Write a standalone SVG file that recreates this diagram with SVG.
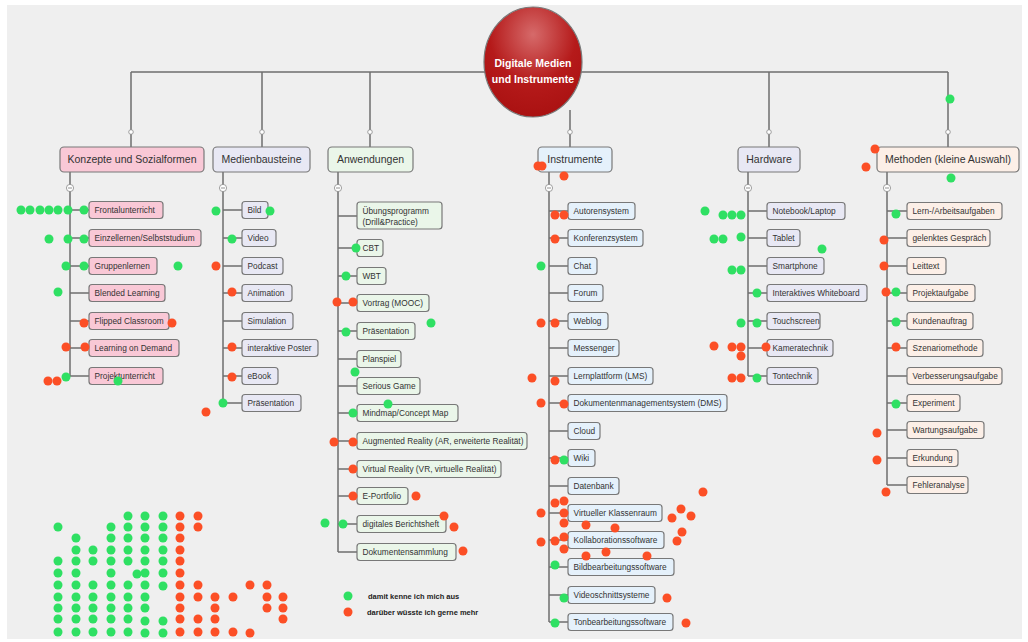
<svg xmlns="http://www.w3.org/2000/svg" width="1028" height="642" viewBox="0 0 1028 642">
<defs>
<radialGradient id="cg" cx="0.5" cy="0.25" r="0.8">
<stop offset="0" stop-color="#d66a6a"/>
<stop offset="0.55" stop-color="#b51a1a"/>
<stop offset="1" stop-color="#a81010"/>
</radialGradient>
<style>
.ln{stroke:#6f6f6f;stroke-width:1.5;fill:none}
.bx{stroke:#787878;stroke-width:1.2}
.pk{fill:#f9c8d6}.lv{fill:#e8e8f4}.gr{fill:#eaf6e9}.bl{fill:#e5f1fb}.pc{fill:#fcefe7}
.t{font-family:"Liberation Sans",Arial,sans-serif;font-size:8.3px;fill:#333}
.h{font-family:"Liberation Sans",Arial,sans-serif;font-size:10.5px;fill:#333;text-anchor:middle}
.c{font-family:"Liberation Sans",Arial,sans-serif;font-size:10.5px;font-weight:bold;fill:#fff;text-anchor:middle}
.l{font-family:"Liberation Sans",Arial,sans-serif;font-size:7.5px;font-weight:bold;fill:#222}
.oc{fill:#fff;stroke:#8a8a8a;stroke-width:0.8}
.g{fill:#2fe063}.r{fill:#fc4f26}
</style>
</defs>
<rect x="0" y="0" width="1028" height="642" fill="#fff"/>
<rect x="7" y="5" width="1015" height="634" fill="#efefef"/>

<g id="connectors">
<path class="ln" d="M131 72H948M131 72V148M262 72V148M370 72V148M570 110V148M769 72V148M948 72V148"/>
<path class="ln" d="M70 172V376M70 210H89M70 238H89M70 266H89M70 293H89M70 321H89M70 348H89M70 376H89"/>
<path class="ln" d="M223 172V403M223 210H242M223 238H242M223 266H242M223 293H242M223 321H242M223 348H242M223 376H242M223 403H242"/>
<path class="ln" d="M338 172V552M338 216H357M338 248H357M338 276H357M338 303H357M338 331H357M338 359H357M338 386H357M338 413H357M338 441H357M338 469H357M338 496H357M338 524H357M338 552H357"/>
<path class="ln" d="M549 172V622M549 211H568M549 238H568M549 266H568M549 293H568M549 321H568M549 348H568M549 376H568M549 403H568M549 431H568M549 458H568M549 486H568M549 513H568M549 540H568M549 567H568M549 595H568M549 622H568"/>
<path class="ln" d="M748 172V376M748 211H767M748 238H767M748 266H767M748 293H767M748 321H767M748 348H767M748 376H767"/>
<path class="ln" d="M887 172V485M887 211H907M887 238H907M887 266H907M887 293H907M887 321H907M887 348H907M887 376H907M887 403H907M887 430H907M887 458H907M887 485H907"/>
<circle class="oc" cx="131" cy="132" r="2.3"/><circle class="oc" cx="262" cy="132" r="2.3"/><circle class="oc" cx="370" cy="132" r="2.3"/><circle class="oc" cx="570" cy="132" r="2.3"/><circle class="oc" cx="769" cy="132" r="2.3"/><circle class="oc" cx="948" cy="132" r="2.3"/>
<g stroke="#777" stroke-width="0.8">
<circle class="oc" cx="70" cy="188" r="3.6"/><path d="M68 188h4"/>
<circle class="oc" cx="223" cy="188" r="3.6"/><path d="M221 188h4"/>
<circle class="oc" cx="338" cy="188" r="3.6"/><path d="M336 188h4"/>
<circle class="oc" cx="549" cy="188" r="3.6"/><path d="M547 188h4"/>
<circle class="oc" cx="748" cy="188" r="3.6"/><path d="M746 188h4"/>
<circle class="oc" cx="887" cy="188" r="3.6"/><path d="M885 188h4"/>
</g>
</g>

<g id="center">
<ellipse cx="533" cy="62" rx="49" ry="55" fill="url(#cg)" stroke="#7a7a7a" stroke-width="1.2"/>
<text class="c" x="533" y="67">Digitale Medien</text>
<text class="c" x="533" y="83">und Instrumente</text>
</g>

<g id="konzepte">
<rect class="bx pk" x="60" y="147" width="144" height="25" rx="4"/><text class="h" x="132" y="163">Konzepte und Sozialformen</text>
<rect class="bx pk" x="89" y="201.5" width="74" height="17" rx="3"/><text class="t" x="94.5" y="213">Frontalunterricht</text>
<rect class="bx pk" x="89" y="229.5" width="112" height="17" rx="3"/><text class="t" x="94.5" y="241">Einzellernen/Selbststudium</text>
<rect class="bx pk" x="89" y="257.5" width="68" height="17" rx="3"/><text class="t" x="94.5" y="269">Gruppenlernen</text>
<rect class="bx pk" x="89" y="284.5" width="76" height="17" rx="3"/><text class="t" x="94.5" y="296">Blended Learning</text>
<rect class="bx pk" x="89" y="312.5" width="80" height="17" rx="3"/><text class="t" x="94.5" y="324">Flipped Classroom</text>
<rect class="bx pk" x="89" y="339.5" width="90" height="17" rx="3"/><text class="t" x="94.5" y="351">Learning on Demand</text>
<rect class="bx pk" x="89" y="367.5" width="74" height="17" rx="3"/><text class="t" x="94.5" y="379">Projektunterricht</text>
</g>

<g id="medienbausteine">
<rect class="bx lv" x="213" y="147" width="97" height="25" rx="4"/><text class="h" x="261.5" y="163">Medienbausteine</text>
<rect class="bx lv" x="242" y="201.5" width="26" height="17" rx="3"/><text class="t" x="247.5" y="213">Bild</text>
<rect class="bx lv" x="242" y="229.5" width="34" height="17" rx="3"/><text class="t" x="247.5" y="241">Video</text>
<rect class="bx lv" x="242" y="257.5" width="41" height="17" rx="3"/><text class="t" x="247.5" y="269">Podcast</text>
<rect class="bx lv" x="242" y="284.5" width="50" height="17" rx="3"/><text class="t" x="247.5" y="296">Animation</text>
<rect class="bx lv" x="242" y="312.5" width="51" height="17" rx="3"/><text class="t" x="247.5" y="324">Simulation</text>
<rect class="bx lv" x="242" y="339.5" width="76" height="17" rx="3"/><text class="t" x="247.5" y="351">interaktive Poster</text>
<rect class="bx lv" x="242" y="367.5" width="36" height="17" rx="3"/><text class="t" x="247.5" y="379">eBook</text>
<rect class="bx lv" x="242" y="394.5" width="59" height="17" rx="3"/><text class="t" x="247.5" y="406">Präsentation</text>
</g>

<g id="anwendungen">
<rect class="bx gr" x="328" y="147" width="85" height="25" rx="4"/><text class="h" x="370.5" y="163">Anwendungen</text>
<rect class="bx gr" x="357" y="202" width="85" height="27" rx="3"/><text class="t" x="362.5" y="213.5">Übungsprogramm</text><text class="t" x="362.5" y="224.5">(Drill&amp;Practice)</text>
<rect class="bx gr" x="357" y="239.5" width="26" height="17" rx="3"/><text class="t" x="362.5" y="251">CBT</text>
<rect class="bx gr" x="357" y="267.5" width="29" height="17" rx="3"/><text class="t" x="362.5" y="279">WBT</text>
<rect class="bx gr" x="357" y="294.5" width="72" height="17" rx="3"/><text class="t" x="362.5" y="306">Vortrag (MOOC)</text>
<rect class="bx gr" x="357" y="322.5" width="58" height="17" rx="3"/><text class="t" x="362.5" y="334">Präsentation</text>
<rect class="bx gr" x="357" y="350.5" width="44" height="17" rx="3"/><text class="t" x="362.5" y="362">Planspiel</text>
<rect class="bx gr" x="357" y="377.5" width="63" height="17" rx="3"/><text class="t" x="362.5" y="389">Serious Game</text>
<rect class="bx gr" x="357" y="404.5" width="101" height="17" rx="3"/><text class="t" x="362.5" y="416">Mindmap/Concept Map</text>
<rect class="bx gr" x="357" y="432.5" width="170" height="17" rx="3"/><text class="t" x="362.5" y="444">Augmented Reality (AR, erweiterte Realität)</text>
<rect class="bx gr" x="357" y="460.5" width="144" height="17" rx="3"/><text class="t" x="362.5" y="472">Virtual Reality (VR, virtuelle Realität)</text>
<rect class="bx gr" x="357" y="487.5" width="51" height="17" rx="3"/><text class="t" x="362.5" y="499">E-Portfolio</text>
<rect class="bx gr" x="357" y="515.5" width="89" height="17" rx="3"/><text class="t" x="362.5" y="527">digitales Berichtsheft</text>
<rect class="bx gr" x="357" y="543.5" width="99" height="17" rx="3"/><text class="t" x="362.5" y="555">Dokumentensammlung</text>
</g>

<g id="instrumente">
<rect class="bx bl" x="538" y="147" width="74" height="25" rx="4"/><text class="h" x="575" y="163">Instrumente</text>
<rect class="bx bl" x="568" y="202.5" width="67" height="17" rx="3"/><text class="t" x="573.5" y="214">Autorensystem</text>
<rect class="bx bl" x="568" y="229.5" width="75" height="17" rx="3"/><text class="t" x="573.5" y="241">Konferenzsystem</text>
<rect class="bx bl" x="568" y="257.5" width="29" height="17" rx="3"/><text class="t" x="573.5" y="269">Chat</text>
<rect class="bx bl" x="568" y="284.5" width="35" height="17" rx="3"/><text class="t" x="573.5" y="296">Forum</text>
<rect class="bx bl" x="568" y="312.5" width="40" height="17" rx="3"/><text class="t" x="573.5" y="324">Weblog</text>
<rect class="bx bl" x="568" y="339.5" width="51" height="17" rx="3"/><text class="t" x="573.5" y="351">Messenger</text>
<rect class="bx bl" x="568" y="367.5" width="85" height="17" rx="3"/><text class="t" x="573.5" y="379">Lernplattform (LMS)</text>
<rect class="bx bl" x="568" y="394.5" width="159" height="17" rx="3"/><text class="t" x="573.5" y="406">Dokumentenmanagementsystem (DMS)</text>
<rect class="bx bl" x="568" y="422.5" width="32" height="17" rx="3"/><text class="t" x="573.5" y="434">Cloud</text>
<rect class="bx bl" x="568" y="449.5" width="27" height="17" rx="3"/><text class="t" x="573.5" y="461">Wiki</text>
<rect class="bx bl" x="568" y="477.5" width="51" height="17" rx="3"/><text class="t" x="573.5" y="489">Datenbank</text>
<rect class="bx bl" x="568" y="504.5" width="94" height="17" rx="3"/><text class="t" x="573.5" y="516">Virtueller Klassenraum</text>
<rect class="bx bl" x="568" y="531.5" width="96" height="17" rx="3"/><text class="t" x="573.5" y="543">Kollaborationssoftware</text>
<rect class="bx bl" x="568" y="558.5" width="106" height="17" rx="3"/><text class="t" x="573.5" y="570">Bildbearbeitungssoftware</text>
<rect class="bx bl" x="568" y="586.5" width="87" height="17" rx="3"/><text class="t" x="573.5" y="598">Videoschnittsysteme</text>
<rect class="bx bl" x="568" y="613.5" width="105" height="17" rx="3"/><text class="t" x="573.5" y="625">Tonbearbeitungssoftware</text>
</g>

<g id="hardware">
<rect class="bx lv" x="738" y="147" width="62" height="25" rx="4"/><text class="h" x="769" y="163">Hardware</text>
<rect class="bx lv" x="767" y="202.5" width="78" height="17" rx="3"/><text class="t" x="772.5" y="214">Notebook/Laptop</text>
<rect class="bx lv" x="767" y="229.5" width="33" height="17" rx="3"/><text class="t" x="772.5" y="241">Tablet</text>
<rect class="bx lv" x="767" y="257.5" width="57" height="17" rx="3"/><text class="t" x="772.5" y="269">Smartphone</text>
<rect class="bx lv" x="767" y="284.5" width="100" height="17" rx="3"/><text class="t" x="772.5" y="296">Interaktives Whiteboard</text>
<rect class="bx lv" x="767" y="312.5" width="53" height="17" rx="3"/><text class="t" x="772.5" y="324">Touchscreen</text>
<rect class="bx lv" x="767" y="339.5" width="66" height="17" rx="3"/><text class="t" x="772.5" y="351">Kameratechnik</text>
<rect class="bx lv" x="767" y="367.5" width="51" height="17" rx="3"/><text class="t" x="772.5" y="379">Tontechnik</text>
</g>

<g id="methoden">
<rect class="bx pc" x="877" y="147" width="142" height="25" rx="4"/><text class="h" x="948" y="163">Methoden (kleine Auswahl)</text>
<rect class="bx pc" x="907" y="202.5" width="95" height="17" rx="3"/><text class="t" x="912.5" y="214">Lern-/Arbeitsaufgaben</text>
<rect class="bx pc" x="907" y="229.5" width="83" height="17" rx="3"/><text class="t" x="912.5" y="241">gelenktes Gespräch</text>
<rect class="bx pc" x="907" y="257.5" width="39" height="17" rx="3"/><text class="t" x="912.5" y="269">Leittext</text>
<rect class="bx pc" x="907" y="284.5" width="68" height="17" rx="3"/><text class="t" x="912.5" y="296">Projektaufgabe</text>
<rect class="bx pc" x="907" y="312.5" width="66" height="17" rx="3"/><text class="t" x="912.5" y="324">Kundenauftrag</text>
<rect class="bx pc" x="907" y="339.5" width="76" height="17" rx="3"/><text class="t" x="912.5" y="351">Szenariomethode</text>
<rect class="bx pc" x="907" y="367.5" width="95" height="17" rx="3"/><text class="t" x="912.5" y="379">Verbesserungsaufgabe</text>
<rect class="bx pc" x="907" y="394.5" width="53" height="17" rx="3"/><text class="t" x="912.5" y="406">Experiment</text>
<rect class="bx pc" x="907" y="421.5" width="77" height="17" rx="3"/><text class="t" x="912.5" y="433">Wartungsaufgabe</text>
<rect class="bx pc" x="907" y="449.5" width="51" height="17" rx="3"/><text class="t" x="912.5" y="461">Erkundung</text>
<rect class="bx pc" x="907" y="476.5" width="61" height="17" rx="3"/><text class="t" x="912.5" y="488">Fehleranalyse</text>
</g>

<g id="dots">
<g class="g">
<circle cx="21" cy="210" r="4.5"/><circle cx="30" cy="210" r="4.5"/><circle cx="40" cy="210" r="4.5"/><circle cx="49" cy="210" r="4.5"/><circle cx="58" cy="210" r="4.5"/><circle cx="68" cy="210" r="4.5"/><circle cx="84" cy="210" r="4.5"/>
<circle cx="49" cy="239" r="4.5"/><circle cx="68" cy="239" r="4.5"/><circle cx="84" cy="239" r="4.5"/>
<circle cx="66" cy="266" r="4.5"/><circle cx="84" cy="266" r="4.5"/><circle cx="178" cy="266" r="4.5"/>
<circle cx="58" cy="292" r="4.5"/><circle cx="66" cy="377" r="4.5"/><circle cx="118" cy="381" r="4.5"/>
<circle cx="216" cy="211" r="4.5"/><circle cx="270" cy="211" r="4.5"/><circle cx="232" cy="239" r="4.5"/><circle cx="223" cy="403" r="4.5"/>
<circle cx="356" cy="248" r="4.5"/><circle cx="346" cy="276" r="4.5"/><circle cx="346" cy="332" r="4.5"/><circle cx="431" cy="323" r="4.5"/><circle cx="355" cy="372" r="4.5"/><circle cx="353" cy="413" r="4.5"/><circle cx="388" cy="404" r="4.5"/><circle cx="325" cy="523" r="4.5"/><circle cx="343" cy="524" r="4.5"/>
<circle cx="541" cy="266" r="4.5"/><circle cx="564" cy="460" r="4.5"/><circle cx="555" cy="565" r="4.5"/><circle cx="564" cy="598" r="4.5"/><circle cx="555" cy="623" r="4.5"/>
<circle cx="705" cy="211" r="4.5"/><circle cx="723" cy="215" r="4.5"/><circle cx="732" cy="215" r="4.5"/><circle cx="741" cy="215" r="4.5"/>
<circle cx="714" cy="239" r="4.5"/><circle cx="723" cy="239" r="4.5"/><circle cx="741" cy="237" r="4.5"/><circle cx="822" cy="249" r="4.5"/>
<circle cx="732" cy="270" r="4.5"/><circle cx="741" cy="270" r="4.5"/><circle cx="757" cy="293" r="4.5"/><circle cx="741" cy="323" r="4.5"/><circle cx="757" cy="323" r="4.5"/><circle cx="757" cy="378" r="4.5"/>
<circle cx="950" cy="99" r="4.5"/><circle cx="951" cy="178" r="4.5"/><circle cx="896" cy="214" r="4.5"/><circle cx="896" cy="292" r="4.5"/><circle cx="896" cy="322" r="4.5"/><circle cx="896" cy="404" r="4.5"/>
</g>
<g class="r">
<circle cx="84" cy="323" r="4.5"/><circle cx="172" cy="323" r="4.5"/><circle cx="66" cy="347" r="4.5"/><circle cx="85" cy="347" r="4.5"/><circle cx="48" cy="381" r="4.5"/><circle cx="57" cy="381" r="4.5"/>
<circle cx="216" cy="266" r="4.5"/><circle cx="232" cy="292" r="4.5"/><circle cx="232" cy="347" r="4.5"/><circle cx="232" cy="377" r="4.5"/><circle cx="206" cy="412" r="4.5"/>
<circle cx="337" cy="302" r="4.5"/><circle cx="353" cy="302" r="4.5"/><circle cx="334" cy="442" r="4.5"/><circle cx="353" cy="442" r="4.5"/><circle cx="353" cy="469" r="4.5"/><circle cx="353" cy="496" r="4.5"/><circle cx="416" cy="496" r="4.5"/><circle cx="444" cy="516" r="4.5"/><circle cx="454" cy="527" r="4.5"/><circle cx="463" cy="551" r="4.5"/>
<circle cx="538" cy="166" r="4.5"/><circle cx="542" cy="166" r="4.5"/><circle cx="564" cy="176" r="4.5"/>
<circle cx="555" cy="215" r="4.5"/><circle cx="564" cy="215" r="4.5"/><circle cx="555" cy="239" r="4.5"/><circle cx="541" cy="323" r="4.5"/><circle cx="555" cy="323" r="4.5"/><circle cx="532" cy="378" r="4.5"/><circle cx="555" cy="381" r="4.5"/>
<circle cx="541" cy="403" r="4.5"/><circle cx="564" cy="404" r="4.5"/><circle cx="555" cy="460" r="4.5"/>
<circle cx="555" cy="503" r="4.5"/><circle cx="564" cy="501" r="4.5"/><circle cx="541" cy="513" r="4.5"/><circle cx="564" cy="513" r="4.5"/><circle cx="564" cy="523" r="4.5"/><circle cx="586" cy="525" r="4.5"/><circle cx="615" cy="528" r="4.5"/>
<circle cx="703" cy="492" r="4.5"/><circle cx="681" cy="509" r="4.5"/><circle cx="691" cy="516" r="4.5"/><circle cx="672" cy="518" r="4.5"/><circle cx="682" cy="532" r="4.5"/><circle cx="677" cy="541" r="4.5"/>
<circle cx="541" cy="542" r="4.5"/><circle cx="555" cy="541" r="4.5"/><circle cx="564" cy="537" r="4.5"/><circle cx="564" cy="549" r="4.5"/><circle cx="586" cy="556" r="4.5"/><circle cx="606" cy="552" r="4.5"/><circle cx="647" cy="556" r="4.5"/>
<circle cx="667" cy="598" r="4.5"/><circle cx="686" cy="623" r="4.5"/>
<circle cx="714" cy="346" r="4.5"/><circle cx="732" cy="347" r="4.5"/><circle cx="741" cy="347" r="4.5"/><circle cx="741" cy="356" r="4.5"/><circle cx="766" cy="347" r="4.5"/><circle cx="732" cy="378" r="4.5"/><circle cx="741" cy="378" r="4.5"/>
<circle cx="875" cy="149" r="4.5"/><circle cx="866" cy="167" r="4.5"/><circle cx="884" cy="240" r="4.5"/><circle cx="884" cy="266" r="4.5"/><circle cx="886" cy="292" r="4.5"/><circle cx="896" cy="347" r="4.5"/><circle cx="877" cy="433" r="4.5"/><circle cx="877" cy="460" r="4.5"/><circle cx="886" cy="492" r="4.5"/>
</g>
</g>

<g id="tally">
<g class="g">
<circle cx="58" cy="527" r="4.5"/><circle cx="58" cy="561" r="4.5"/><circle cx="58" cy="573" r="4.5"/><circle cx="58" cy="585" r="4.5"/><circle cx="58" cy="597" r="4.5"/><circle cx="58" cy="608" r="4.5"/><circle cx="58" cy="619" r="4.5"/><circle cx="58" cy="632" r="4.5"/>
<circle cx="76" cy="538" r="4.5"/><circle cx="76" cy="550" r="4.5"/><circle cx="76" cy="561" r="4.5"/><circle cx="76" cy="573" r="4.5"/><circle cx="76" cy="585" r="4.5"/><circle cx="76" cy="597" r="4.5"/><circle cx="76" cy="608" r="4.5"/><circle cx="76" cy="619" r="4.5"/><circle cx="76" cy="632" r="4.5"/>
<circle cx="93" cy="550" r="4.5"/><circle cx="93" cy="561" r="4.5"/><circle cx="93" cy="585" r="4.5"/><circle cx="93" cy="597" r="4.5"/><circle cx="93" cy="608" r="4.5"/><circle cx="93" cy="619" r="4.5"/><circle cx="93" cy="632" r="4.5"/>
<circle cx="111" cy="527" r="4.5"/><circle cx="111" cy="538" r="4.5"/><circle cx="111" cy="550" r="4.5"/><circle cx="111" cy="561" r="4.5"/><circle cx="111" cy="573" r="4.5"/><circle cx="111" cy="585" r="4.5"/><circle cx="111" cy="597" r="4.5"/><circle cx="111" cy="608" r="4.5"/><circle cx="111" cy="619" r="4.5"/><circle cx="111" cy="632" r="4.5"/>
<circle cx="128" cy="516" r="4.5"/><circle cx="128" cy="527" r="4.5"/><circle cx="128" cy="538" r="4.5"/><circle cx="128" cy="550" r="4.5"/><circle cx="128" cy="561" r="4.5"/><circle cx="137" cy="574" r="4.5"/><circle cx="128" cy="585" r="4.5"/><circle cx="128" cy="597" r="4.5"/><circle cx="128" cy="608" r="4.5"/><circle cx="128" cy="619" r="4.5"/><circle cx="128" cy="632" r="4.5"/>
<circle cx="145" cy="516" r="4.5"/><circle cx="145" cy="527" r="4.5"/><circle cx="145" cy="538" r="4.5"/><circle cx="145" cy="550" r="4.5"/><circle cx="145" cy="561" r="4.5"/><circle cx="145" cy="573" r="4.5"/><circle cx="145" cy="585" r="4.5"/><circle cx="145" cy="597" r="4.5"/><circle cx="145" cy="608" r="4.5"/><circle cx="145" cy="621" r="4.5"/><circle cx="145" cy="633" r="4.5"/>
<circle cx="163" cy="516" r="4.5"/><circle cx="163" cy="527" r="4.5"/><circle cx="163" cy="538" r="4.5"/><circle cx="163" cy="550" r="4.5"/><circle cx="163" cy="561" r="4.5"/><circle cx="163" cy="573" r="4.5"/><circle cx="163" cy="586" r="4.5"/><circle cx="163" cy="621" r="4.5"/><circle cx="163" cy="633" r="4.5"/>
</g>
<g class="r">
<circle cx="180" cy="516" r="4.5"/><circle cx="180" cy="527" r="4.5"/><circle cx="180" cy="538" r="4.5"/><circle cx="180" cy="550" r="4.5"/><circle cx="180" cy="561" r="4.5"/><circle cx="180" cy="573" r="4.5"/><circle cx="180" cy="585" r="4.5"/><circle cx="180" cy="597" r="4.5"/><circle cx="180" cy="608" r="4.5"/><circle cx="180" cy="619" r="4.5"/><circle cx="180" cy="632" r="4.5"/>
<circle cx="198" cy="516" r="4.5"/><circle cx="198" cy="527" r="4.5"/><circle cx="198" cy="585" r="4.5"/><circle cx="198" cy="597" r="4.5"/><circle cx="198" cy="619" r="4.5"/><circle cx="198" cy="632" r="4.5"/>
<circle cx="215" cy="597" r="4.5"/><circle cx="215" cy="608" r="4.5"/><circle cx="215" cy="619" r="4.5"/><circle cx="215" cy="632" r="4.5"/>
<circle cx="233" cy="597" r="4.5"/><circle cx="233" cy="632" r="4.5"/>
<circle cx="250" cy="585" r="4.5"/><circle cx="250" cy="633" r="4.5"/>
<circle cx="267" cy="585" r="4.5"/><circle cx="267" cy="597" r="4.5"/><circle cx="267" cy="608" r="4.5"/>
<circle cx="283" cy="597" r="4.5"/><circle cx="283" cy="608" r="4.5"/><circle cx="283" cy="619" r="4.5"/>
</g>
</g>

<g id="legend">
<circle class="g" cx="348" cy="596" r="4.5"/><text class="l" x="368" y="599">damit kenne ich mich aus</text>
<circle class="r" cx="348" cy="612" r="4.5"/><text class="l" x="367" y="615">darüber wüsste ich gerne mehr</text>
</g>
</svg>
